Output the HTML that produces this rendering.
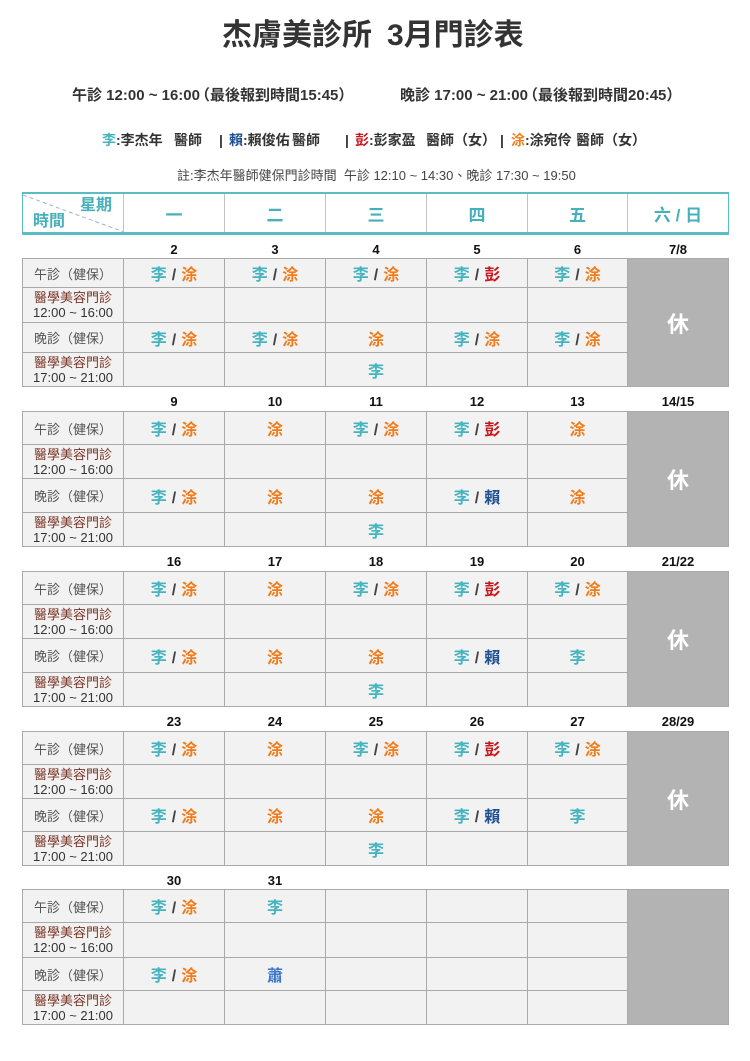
<!DOCTYPE html>
<html><head><meta charset="utf-8">
<style>
*{margin:0;padding:0;box-sizing:border-box}
body{width:750px;height:1061px;background:#fff;position:relative;overflow:hidden;font-family:"Liberation Sans","Noto Sans CJK TC",sans-serif;color:#333}
.a{position:absolute;white-space:pre;line-height:1}
.b{font-weight:bold}
.jp{font-family:"Liberation Sans","Noto Sans CJK JP",sans-serif}
.pl{margin-left:-5px}.pr{margin-right:-4px}
.L{color:#45b4bf}.T{color:#f07c1c}.P{color:#c8161d}.R{color:#1d4f91}.X{color:#3a76cc}
.s{position:relative;top:3px;margin:0 5px}
.wk{position:absolute;left:22px;width:707px;display:grid;grid-template-columns:100px 100px 100px 100px 100px 99px 100px;gap:1px;padding:1px;background:#a9a9a9}
.c{background:#f2f2f2;display:flex;align-items:center;justify-content:center;font-weight:bold;font-size:16px;color:#444;white-space:pre}
.lab{font-weight:normal;font-size:13px;color:#555;font-family:"Liberation Sans","Noto Sans CJK JP",sans-serif}
.lab2{font-weight:normal;font-size:13px;line-height:15px;flex-direction:column;color:#333}
.lab2 span{color:#7a3527}
.hol{background:#b3b3b3;grid-row:span 4;color:#fff;font-size:22px}
.days{position:absolute;left:22px;width:707px;height:18px;display:grid;grid-template-columns:100px 100px 100px 100px 100px 99px 100px;gap:1px;padding:0 1px}
.days div{display:flex;align-items:center;justify-content:center;font-weight:bold;font-size:13px;color:#111}
.hd{position:absolute;top:192px;left:22px;width:707px;height:43px;border-top:2px solid #5cbcc4;border-bottom:3px solid #5cbcc4;border-left:1px solid #5cbcc4;border-right:1px solid #5cbcc4}
.hv{position:absolute;top:0;width:1px;height:38px;background:#c4c4c4}
.hc{position:absolute;top:0;height:38px;display:flex;align-items:center;justify-content:center;color:#46b1ba;font-weight:bold;font-size:17px;white-space:pre}
</style></head><body>

<div class="a b" style="left:222px;top:21px;font-size:30px;color:#333">杰膚美診所</div>
<div class="a b" style="left:387px;top:21px;font-size:30px;color:#333">3月門診表</div>

<div class="a b jp" style="left:72px;top:88px;font-size:15px">午診 12:00 ~ 16:00<span class="pl">（</span>最後報到時間15:45<span class="pr">）</span></div>
<div class="a b jp" style="left:400px;top:88px;font-size:15px">晚診 17:00 ~ 21:00<span class="pl">（</span>最後報到時間20:45<span class="pr">）</span></div>

<div class="a b" style="left:102px;top:133px;font-size:14px"><span class="L">李</span>:李杰年</div>
<div class="a b" style="left:174px;top:133px;font-size:14px">醫師</div>
<div class="a b" style="left:219px;top:133px;font-size:14px">|</div>
<div class="a b" style="left:229px;top:133px;font-size:14px"><span class="R">賴</span>:賴俊佑</div>
<div class="a b" style="left:292px;top:133px;font-size:14px">醫師</div>
<div class="a b" style="left:345px;top:133px;font-size:14px">|</div>
<div class="a b" style="left:355px;top:133px;font-size:14px"><span class="P">彭</span>:彭家盈</div>
<div class="a b jp" style="left:426px;top:133px;font-size:14px">醫師（女）</div>
<div class="a b" style="left:500px;top:133px;font-size:14px">|</div>
<div class="a b" style="left:511px;top:133px;font-size:14px"><span class="T">涂</span>:涂宛伶</div>
<div class="a b jp" style="left:576px;top:133px;font-size:14px">醫師（女）</div>

<div class="a" style="left:177px;top:169px;font-size:13px;color:#444">註:李杰年醫師健保門診時間  午診 12:10 ~ 14:30、晚診 17:30 ~ 19:50</div>

<div class="hd">
<svg style="position:absolute;left:0;top:0" width="101" height="38"><line x1="0" y1="1" x2="101" y2="38" stroke="#9bb7bd" stroke-width="1" stroke-dasharray="4,3"/></svg>
<div class="a b" style="left:57px;top:4px;font-size:16px;color:#46b1ba">星期</div>
<div class="a b" style="left:10px;top:20px;font-size:16px;color:#46b1ba">時間</div>
<div class="hv" style="left:100px"></div>
<div class="hv" style="left:201px"></div>
<div class="hv" style="left:302px"></div>
<div class="hv" style="left:403px"></div>
<div class="hv" style="left:504px"></div>
<div class="hv" style="left:604px"></div>
<div class="hc" style="left:101px;width:100px">一</div>
<div class="hc" style="left:202px;width:100px">二</div>
<div class="hc" style="left:303px;width:100px">三</div>
<div class="hc" style="left:404px;width:100px">四</div>
<div class="hc" style="left:505px;width:99px">五</div>
<div class="hc" style="left:605px;width:100px">六 / 日</div>
</div>

<!-- Week 1 -->
<div class="days" style="top:240px"><div></div><div>2</div><div>3</div><div>4</div><div>5</div><div>6</div><div>7/8</div></div>
<div class="wk" style="top:258px;grid-template-rows:28px 34px 29px 33px">
<div class="c lab">午診（健保）</div>
<div class="c"><span class="L">李</span><span class="s">/</span><span class="T">涂</span></div>
<div class="c"><span class="L">李</span><span class="s">/</span><span class="T">涂</span></div>
<div class="c"><span class="L">李</span><span class="s">/</span><span class="T">涂</span></div>
<div class="c"><span class="L">李</span><span class="s">/</span><span class="P">彭</span></div>
<div class="c"><span class="L">李</span><span class="s">/</span><span class="T">涂</span></div>
<div class="c hol">休</div>
<div class="c lab2"><span>醫學美容門診</span>12:00 ~ 16:00</div>
<div class="c"></div><div class="c"></div><div class="c"></div><div class="c"></div><div class="c"></div>
<div class="c lab">晚診（健保）</div>
<div class="c"><span class="L">李</span><span class="s">/</span><span class="T">涂</span></div>
<div class="c"><span class="L">李</span><span class="s">/</span><span class="T">涂</span></div>
<div class="c"><span class="T">涂</span></div>
<div class="c"><span class="L">李</span><span class="s">/</span><span class="T">涂</span></div>
<div class="c"><span class="L">李</span><span class="s">/</span><span class="T">涂</span></div>
<div class="c lab2"><span>醫學美容門診</span>17:00 ~ 21:00</div>
<div class="c"></div><div class="c"></div><div class="c"><span class="L">李</span></div><div class="c"></div><div class="c"></div>
</div>

<!-- Week 2 -->
<div class="days" style="top:392px"><div></div><div>9</div><div>10</div><div>11</div><div>12</div><div>13</div><div>14/15</div></div>
<div class="wk" style="top:411px;grid-template-rows:32px 33px 33px 33px">
<div class="c lab">午診（健保）</div>
<div class="c"><span class="L">李</span><span class="s">/</span><span class="T">涂</span></div>
<div class="c"><span class="T">涂</span></div>
<div class="c"><span class="L">李</span><span class="s">/</span><span class="T">涂</span></div>
<div class="c"><span class="L">李</span><span class="s">/</span><span class="P">彭</span></div>
<div class="c"><span class="T">涂</span></div>
<div class="c hol">休</div>
<div class="c lab2"><span>醫學美容門診</span>12:00 ~ 16:00</div>
<div class="c"></div><div class="c"></div><div class="c"></div><div class="c"></div><div class="c"></div>
<div class="c lab">晚診（健保）</div>
<div class="c"><span class="L">李</span><span class="s">/</span><span class="T">涂</span></div>
<div class="c"><span class="T">涂</span></div>
<div class="c"><span class="T">涂</span></div>
<div class="c"><span class="L">李</span><span class="s">/</span><span class="R">賴</span></div>
<div class="c"><span class="T">涂</span></div>
<div class="c lab2"><span>醫學美容門診</span>17:00 ~ 21:00</div>
<div class="c"></div><div class="c"></div><div class="c"><span class="L">李</span></div><div class="c"></div><div class="c"></div>
</div>

<!-- Week 3 -->
<div class="days" style="top:552px"><div></div><div>16</div><div>17</div><div>18</div><div>19</div><div>20</div><div>21/22</div></div>
<div class="wk" style="top:571px;grid-template-rows:32px 33px 33px 33px">
<div class="c lab">午診（健保）</div>
<div class="c"><span class="L">李</span><span class="s">/</span><span class="T">涂</span></div>
<div class="c"><span class="T">涂</span></div>
<div class="c"><span class="L">李</span><span class="s">/</span><span class="T">涂</span></div>
<div class="c"><span class="L">李</span><span class="s">/</span><span class="P">彭</span></div>
<div class="c"><span class="L">李</span><span class="s">/</span><span class="T">涂</span></div>
<div class="c hol">休</div>
<div class="c lab2"><span>醫學美容門診</span>12:00 ~ 16:00</div>
<div class="c"></div><div class="c"></div><div class="c"></div><div class="c"></div><div class="c"></div>
<div class="c lab">晚診（健保）</div>
<div class="c"><span class="L">李</span><span class="s">/</span><span class="T">涂</span></div>
<div class="c"><span class="T">涂</span></div>
<div class="c"><span class="T">涂</span></div>
<div class="c"><span class="L">李</span><span class="s">/</span><span class="R">賴</span></div>
<div class="c"><span class="L">李</span></div>
<div class="c lab2"><span>醫學美容門診</span>17:00 ~ 21:00</div>
<div class="c"></div><div class="c"></div><div class="c"><span class="L">李</span></div><div class="c"></div><div class="c"></div>
</div>

<!-- Week 4 -->
<div class="days" style="top:712px"><div></div><div>23</div><div>24</div><div>25</div><div>26</div><div>27</div><div>28/29</div></div>
<div class="wk" style="top:731px;grid-template-rows:32px 33px 32px 33px">
<div class="c lab">午診（健保）</div>
<div class="c"><span class="L">李</span><span class="s">/</span><span class="T">涂</span></div>
<div class="c"><span class="T">涂</span></div>
<div class="c"><span class="L">李</span><span class="s">/</span><span class="T">涂</span></div>
<div class="c"><span class="L">李</span><span class="s">/</span><span class="P">彭</span></div>
<div class="c"><span class="L">李</span><span class="s">/</span><span class="T">涂</span></div>
<div class="c hol">休</div>
<div class="c lab2"><span>醫學美容門診</span>12:00 ~ 16:00</div>
<div class="c"></div><div class="c"></div><div class="c"></div><div class="c"></div><div class="c"></div>
<div class="c lab">晚診（健保）</div>
<div class="c"><span class="L">李</span><span class="s">/</span><span class="T">涂</span></div>
<div class="c"><span class="T">涂</span></div>
<div class="c"><span class="T">涂</span></div>
<div class="c"><span class="L">李</span><span class="s">/</span><span class="R">賴</span></div>
<div class="c"><span class="L">李</span></div>
<div class="c lab2"><span>醫學美容門診</span>17:00 ~ 21:00</div>
<div class="c"></div><div class="c"></div><div class="c"><span class="L">李</span></div><div class="c"></div><div class="c"></div>
</div>

<!-- Week 5 -->
<div class="days" style="top:871px"><div></div><div>30</div><div>31</div><div></div><div></div><div></div><div></div></div>
<div class="wk" style="top:889px;grid-template-rows:32px 34px 32px 33px">
<div class="c lab">午診（健保）</div>
<div class="c"><span class="L">李</span><span class="s">/</span><span class="T">涂</span></div>
<div class="c"><span class="L">李</span></div>
<div class="c"></div><div class="c"></div><div class="c"></div>
<div class="c hol"></div>
<div class="c lab2"><span>醫學美容門診</span>12:00 ~ 16:00</div>
<div class="c"></div><div class="c"></div><div class="c"></div><div class="c"></div><div class="c"></div>
<div class="c lab">晚診（健保）</div>
<div class="c"><span class="L">李</span><span class="s">/</span><span class="T">涂</span></div>
<div class="c"><span class="X">蕭</span></div>
<div class="c"></div><div class="c"></div><div class="c"></div>
<div class="c lab2"><span>醫學美容門診</span>17:00 ~ 21:00</div>
<div class="c"></div><div class="c"></div><div class="c"></div><div class="c"></div><div class="c"></div>
</div>

</body></html>
